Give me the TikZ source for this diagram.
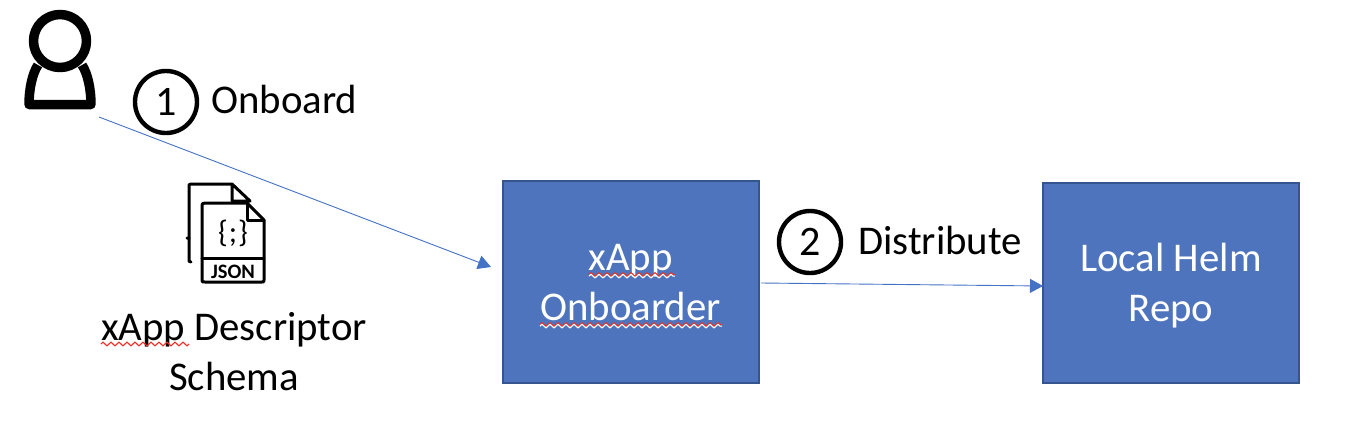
\documentclass[tikz,border=0pt]{standalone}
\usepackage{fontspec}
\setmainfont{Carlito}
\usetikzlibrary{arrows.meta,decorations.pathmorphing}
\definecolor{boxfill}{HTML}{4E74BE}
\definecolor{boxline}{HTML}{35558F}
\definecolor{arrowblue}{HTML}{4472C4}
\definecolor{squiggle}{HTML}{E0352B}
\tikzset{
  x=1pt,y=-1pt,
  txt/.style={font=\fontsize{40.8}{49}\selectfont,align=center,inner sep=0pt,text=black},
  boxnode/.style={draw=boxline,line width=2pt,fill=boxfill,minimum width=256pt,minimum height=202pt,inner sep=0pt,outer sep=0pt,text=white,font=\fontsize{40.8}{49}\selectfont,align=center},
  numcircle/.style={circle,draw=black,line width=4.4pt,minimum size=62pt,inner sep=0pt,font=\fontsize{42}{49}\selectfont},
  conn/.style={draw=arrowblue,line width=0.9pt,-{Triangle[length=13pt,width=14pt]}},
  icon/.style={draw=black,line width=3pt,line join=round,line cap=round},
  iconthick/.style={draw=black,line width=9.5pt,line join=round},
  wavy/.style={draw=squiggle,line width=1.2pt,decorate,decoration={zigzag,segment length=8pt,amplitude=1.8pt}},
  wavywhite/.style={draw=white,line width=1.1pt,decorate,decoration={zigzag,segment length=8pt,amplitude=1.8pt}}
}
\begin{document}
\begin{tikzpicture}
\useasboundingbox (0,0) rectangle (1368,440);
\fill[white] (0,0) rectangle (1368,440);
% person
\draw[iconthick] (60,41) circle (26.5);
\draw[iconthick] (38,65) .. controls (32,74) and (29,90) .. (29,104.5) -- (91,104.5) .. controls (91,90) and (88,74) .. (82,65);
\coordinate (userend) at (99,117);
% boxes
\node[boxnode] (onb) at (630.5,282) {\rule{0pt}{41pt}xApp\\[1pt]\strut Onboarder};
\node[boxnode,minimum height=200pt] (helm) at (1171,283) {\rule{0pt}{41pt}Local Helm\\[1pt]\strut Repo};
% squiggles
\draw[wavy] (589,274.5) -- (675,274.5);
\draw[wavy] (540,324.5) -- (722,324.5);
\draw[wavywhite,yshift=-1.6pt] (589,274.5) -- (675,274.5);
\draw[wavywhite,yshift=-1.6pt] (540,324.5) -- (722,324.5);
% circles and labels
\node[numcircle] (c1) at (166,102) {1};
\node[txt,anchor=west] (t1) at (211,99.5) {Onboard};
\node[numcircle] (c2) at (810,242) {2};
\node[txt,anchor=west] (t2) at (858,240.5) {Distribute};
% connectors
\coordinate (onbin) at (491,267);
\coordinate (onbout) at (761,283);
\draw[conn] (userend) -- (onbin);
\draw[conn] (onbout) -- ([yshift=-3pt]helm.west);
% json icon
\draw[icon] (189,238) -- (189,186) .. controls (189,184.5) .. (191,184) -- (232,184) -- (250,201) -- (232,201) -- (232,184);
\draw[icon] (187,238) -- (189,238) -- (189,260) .. controls (189,261.5) .. (191,262);
\draw[icon] (205,203) -- (247,203) -- (264,220) -- (264,280) .. controls (264,282) .. (262,282) -- (205,282) .. controls (202,282) .. (202,280) -- (202,206) .. controls (202,203.5) .. (205,203);
\draw[icon] (247,203) -- (247,220) -- (264,220);
\draw[icon] (202,258) -- (264,258);
\node[inner sep=0pt,font=\fontsize{31}{31}\selectfont] (brace) at (233,233.5) {\{\kern1pt;\kern1pt\}};
\node[inner sep=0pt,font=\fontsize{20.5}{20}\selectfont\bfseries] (json) at (233,271.5) {JSON};
% descriptor text
\node[txt] (desc) at (234,355.5) {\strut xApp Descriptor\\[1pt]\strut Schema};
\draw[wavy] (101,344) -- (189,344);
\end{tikzpicture}
\end{document}
